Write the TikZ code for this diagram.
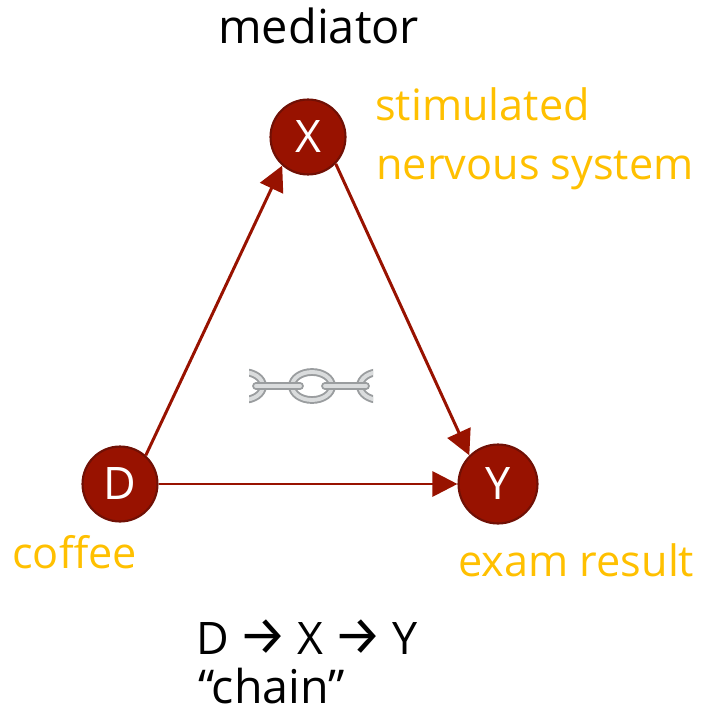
\documentclass[tikz,border=0pt]{standalone}
\usepackage{fontspec}
\setmainfont{Open Sans}
\newfontfamily\symfont{Fira Sans}
\usetikzlibrary{arrows.meta}
\definecolor{darkred}{HTML}{981200}
\definecolor{rimred}{HTML}{701005}
\definecolor{labelgold}{HTML}{FFC000}
\definecolor{linkgray}{HTML}{9A9D9F}
\definecolor{linkshine}{HTML}{DADCDD}
\newcommand{\pathmark}{\hspace{-1pt}{\symfont\fontsize{31}{30}\selectfont\symbol{"2192}}\hspace{-1pt}}
\tikzset{
  var/.style={circle, draw=rimred, line width=1.2pt, fill=darkred, text=white, minimum size=1.5cm, inner sep=0pt, font=\fontsize{25.5}{30}\selectfont},
  note/.style={anchor=base west, inner sep=0pt, text=labelgold, font=\fontsize{24.6}{30}\selectfont},
  plain/.style={anchor=base west, inner sep=0pt, text=black, font=\fontsize{25.5}{30}\selectfont},
  arrow/.style={-{Triangle[length=5mm, width=5mm]}, line width=1.7pt, draw=darkred},
  link/.style={line width=4.4pt, draw=linkgray},
  shine/.style={line width=2.2pt, draw=linkshine}
}
\begin{document}
\begin{tikzpicture}[x=0.02cm, y=-0.02cm]
  \useasboundingbox (0,0) rectangle (700,713);

  % three variables
  \node[var] (x) at (308,137) {X};
  \node[var] (d) at (120,484) {D};
  \node[var, minimum size=1.58cm] (y) at (498,484) {Y};

  % causal arrows
  \draw[arrow] (d.48) -- (x.228);
  \draw[arrow] (x.-44) -- (y.135);
  \draw[arrow] (d.east) -- (y.west);

  % labels
  \node[plain, font=\fontsize{26.7}{32}\selectfont] (mediator) at (218,44) {mediator};
  \node[note] (stimulated) at (375,120) {stimulated};
  \node[note] (nervous) at (376,179) {nervous system};
  \node[note] (coffee) at (12,568) {coffee};
  \node[note] (exam) at (458,576) {exam result};
  \node[plain] (path) at (196,654) {D \pathmark{} X \pathmark{} Y};
  \node[plain, font=\fontsize{26.5}{32}\selectfont] (chain) at (198,703) {“chain”};

  % chain picture
  \begin{scope}
    \clip (249,360) rectangle (373,412);
    \foreach \cx in {243,312,380} {
      \draw[link] (\cx,386) ellipse [x radius=20, y radius=14];
      \draw[shine] (\cx,386) ellipse [x radius=20, y radius=14];
    }
    \foreach \xa/\xb in {256/300,325/366} {
      \draw[link, line cap=round] (\xa,386) -- (\xb,386);
      \draw[shine, line cap=round] (\xa,386) -- (\xb,386);
    }
  \end{scope}
\end{tikzpicture}
\end{document}
